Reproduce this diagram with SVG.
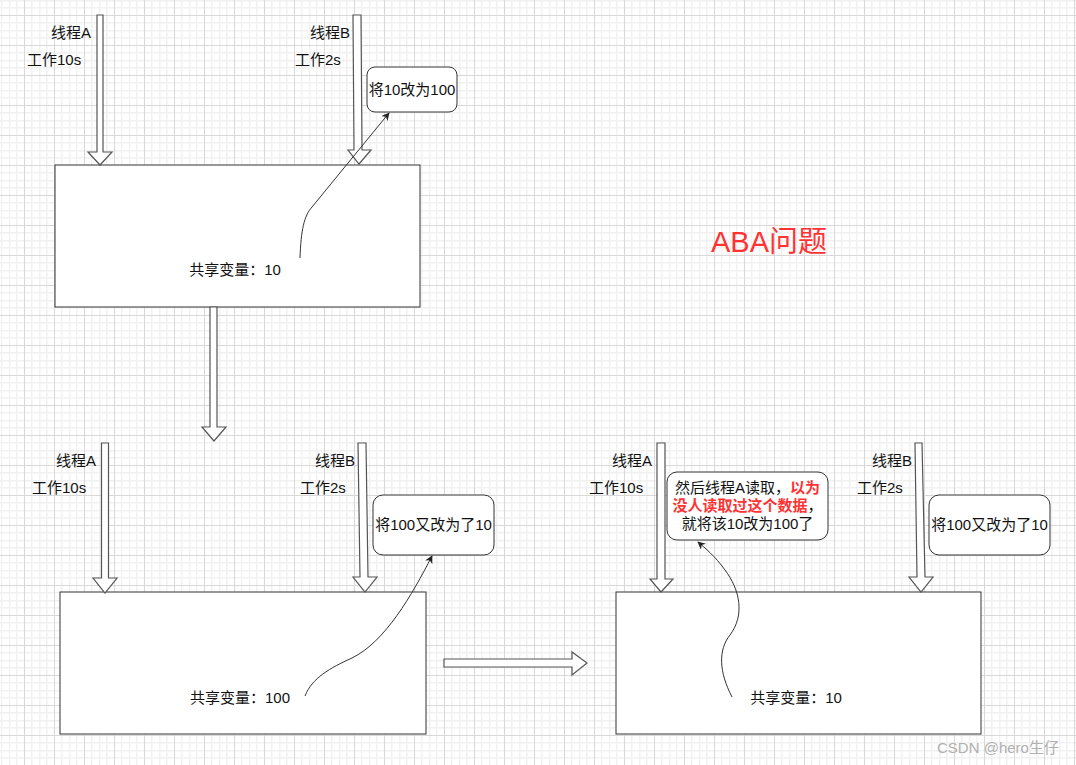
<svg xmlns="http://www.w3.org/2000/svg" width="1076" height="765" viewBox="0 0 1076 765">
<defs>
<pattern id="grid" x="24" y="15" width="30" height="30" patternUnits="userSpaceOnUse">
<rect width="30" height="30" fill="#ffffff"/>
<rect x="7" y="0" width="1.5" height="30" fill="#f1f1f1"/>
<rect x="15" y="0" width="1.5" height="30" fill="#f1f1f1"/>
<rect x="22" y="0" width="1.5" height="30" fill="#f1f1f1"/>
<rect x="0" y="7" width="30" height="1.5" fill="#f1f1f1"/>
<rect x="0" y="15" width="30" height="1.5" fill="#f1f1f1"/>
<rect x="0" y="22" width="30" height="1.5" fill="#f1f1f1"/>
<rect x="0" y="0" width="1" height="30" fill="#d8d8d8"/>
<rect x="0" y="0" width="30" height="1" fill="#d8d8d8"/>
</pattern>
<marker id="ah" viewBox="0 0 10 10" refX="9" refY="5" markerWidth="8" markerHeight="8" markerUnits="userSpaceOnUse" orient="auto">
<path d="M0,0 L10,5 L0,10 L3,5 Z" fill="#222"/>
</marker>
<style>
text{font-family:"Liberation Sans","Noto Sans CJK SC",sans-serif;font-size:15px;fill:#111;}
.mid{text-anchor:middle;}
.box{fill:#fff;stroke:#333;stroke-width:1;}
.rbox{fill:#fff;stroke:#333;stroke-width:1;}
.barrow{fill:#fff;stroke:#555;stroke-width:1.2;}
.conn{fill:none;stroke:#333;stroke-width:1;marker-end:url(#ah);}
.red{fill:#ff3333;font-weight:bold;}
.blk{fill:#111;font-weight:normal;}
</style>
</defs>
<rect width="1076" height="765" fill="url(#grid)"/>

<g id="box1"><rect class="box" x="55" y="165" width="365" height="142"/><text class="mid" x="235" y="275">共享变量：10</text></g>
<g id="box2"><rect class="box" x="60" y="592" width="366" height="142"/><text class="mid" x="240" y="703">共享变量：100</text></g>
<g id="box3"><rect class="box" x="616" y="592" width="365" height="142"/><text class="mid" x="796" y="703">共享变量：10</text></g>

<g id="note1"><rect class="rbox" x="367" y="67" width="90" height="45" rx="8"/><text class="mid" x="412" y="95">将10改为100</text></g>
<g id="note2"><rect class="rbox" x="373" y="495" width="121" height="60" rx="10"/><text class="mid" x="433.5" y="530">将100又改为了10</text></g>
<g id="note3"><rect class="rbox" x="929" y="495" width="121" height="60" rx="10"/><text class="mid" x="989.5" y="530">将100又改为了10</text></g>
<g id="note4"><rect class="rbox" x="667" y="472" width="161" height="68" rx="10"/>
<text class="mid" x="747.5" y="493">然后线程A读取，<tspan class="red">以为</tspan></text>
<text class="mid red" x="747.5" y="511">没人读取过这个数据<tspan class="blk">，</tspan></text>
<text class="mid" x="747.5" y="529">就将该10改为100了</text>
</g>

<g id="threadA1"><polygon class="barrow" points="97,15 103,15 103,152 112,152 100,165 88,152 97,152"/><text x="51" y="38">线程A</text><text x="27" y="65">工作10s</text></g>
<g id="threadB1"><polygon class="barrow" points="353,15 361,15 362,150 371,150 359,164 348,150 354,150"/><text x="310" y="38">线程B</text><text x="295" y="65">工作2s</text></g>
<g id="threadA2"><polygon class="barrow" points="101.5,443 108.5,443 108.5,578 117,578 105,593 93,578 101.5,578"/><text x="56" y="466">线程A</text><text x="32" y="493">工作10s</text></g>
<g id="threadB2"><polygon class="barrow" points="358,443 366,443 368,577 377,577 365,592 353,577 360,577"/><text x="315" y="466">线程B</text><text x="300" y="493">工作2s</text></g>
<g id="threadA3"><polygon class="barrow" points="657,443 665,443 665,579 673,579 661,592 650,579 657,579"/><text x="612" y="466">线程A</text><text x="589" y="493">工作10s</text></g>
<g id="threadB3"><polygon class="barrow" points="915,443 922,443 925,577 933,577 921,592 909,577 917,577"/><text x="872" y="466">线程B</text><text x="857" y="493">工作2s</text></g>

<g id="step-down"><polygon class="barrow" points="210,307 217,307 217,427 226,427 214,441 202,427 210,427"/></g>
<g id="step-right"><polygon class="barrow" points="444,659 572,659 572,652 587,663 572,675 572,667 444,667"/></g>

<g id="connectors">
<path class="conn" d="M300,258 C301,230 304,216 312,207 L389,113"/>
<path class="conn" d="M305,696 C312,678 330,668 352,658 C385,642 412,595 432,556"/>
<path class="conn" d="M732,697 C719,672 718,650 730,635 C745,615 740,590 725,570 C715,556 705,548 698,542"/>
</g>

<g id="title"><text x="711" y="252" style="font-size:29px;fill:#ff3333;">ABA问题</text></g>
<g id="watermark"><text x="937" y="753" style="fill:#b0b0b0;">CSDN @hero生仔</text></g>
</svg>
